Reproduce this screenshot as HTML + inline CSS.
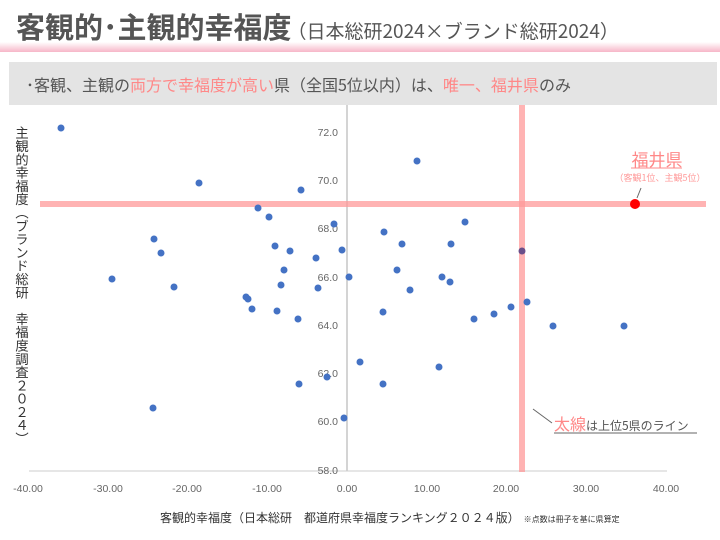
<!DOCTYPE html>
<html><head><meta charset="utf-8"><style>
body{margin:0;width:720px;height:540px;background:#fff;overflow:hidden;font-family:"Liberation Sans","Noto Sans CJK JP",sans-serif;}
</style></head><body>
<svg width="720" height="540" viewBox="0 0 720 540" xmlns="http://www.w3.org/2000/svg" style="position:absolute;left:0;top:0">
<defs><linearGradient id="g" x1="0" y1="0" x2="0" y2="1"><stop offset="0" stop-color="#fff"/><stop offset="1" stop-color="#f7b6c8"/></linearGradient></defs>
<rect x="0" y="42" width="720" height="10" fill="url(#g)"/>
<text x="16" y="38" font-size="29" font-weight="bold" fill="#555" font-family="Noto Sans CJK JP,sans-serif">客観的･主観的幸福度<tspan font-size="19" font-weight="normal" dx="-4">（日本総研2024×ブランド総研2024）</tspan></text>
<rect x="9" y="62" width="708" height="43" fill="#e4e4e4"/>
<text x="26" y="91" font-size="16" fill="#555" font-family="Noto Sans CJK JP,sans-serif">･客観、主観の<tspan fill="#f88">両方で幸福度が高い</tspan>県（全国5位以内）は、<tspan fill="#f88">唯一、福井県</tspan>のみ</text>
<line x1="347" y1="105" x2="347" y2="471" stroke="#aaa" stroke-width="1"/>
<line x1="29" y1="471" x2="667" y2="471" stroke="#ccc" stroke-width="1"/>
<g font-size="10.5" fill="#666" text-anchor="end">
<text x="338" y="136">72.0</text><text x="338" y="184">70.0</text><text x="338" y="232">68.0</text><text x="338" y="281">66.0</text><text x="338" y="329">64.0</text><text x="338" y="377">62.0</text><text x="338" y="425">60.0</text><text x="338" y="474">58.0</text>
</g>
<g font-size="10.5" fill="#666" text-anchor="middle">
<text x="28" y="492">-40.00</text><text x="108" y="492">-30.00</text><text x="187" y="492">-20.00</text><text x="267" y="492">-10.00</text><text x="347" y="492">0.00</text><text x="427" y="492">10.00</text><text x="506" y="492">20.00</text><text x="586" y="492">30.00</text><text x="666" y="492">40.00</text>
</g>
<text x="160" y="522" font-size="12" fill="#333" font-family="Noto Sans CJK JP,sans-serif">客観的幸福度（日本総研　都道府県幸福度ランキング２０２４版）<tspan font-size="8" dx="4">※点数は冊子を基に県算定</tspan></text>
<text font-size="13.3" fill="#333" x="22" y="126" font-family="Noto Sans CJK JP,sans-serif" style="writing-mode:vertical-rl">主観的幸福度（ブランド総研　幸福度調査２０２４）</text>
<rect x="40" y="201" width="666" height="6" fill="#f99" opacity="0.75"/>
<rect x="519" y="105" width="6" height="367" fill="#f99" opacity="0.75"/>
<g fill="#4472c4">
<circle cx="61" cy="128" r="3.5"/><circle cx="199" cy="183" r="3.5"/><circle cx="301" cy="190" r="3.5"/><circle cx="258" cy="208" r="3.5"/><circle cx="269" cy="217" r="3.5"/><circle cx="154" cy="239" r="3.5"/><circle cx="161" cy="253" r="3.5"/><circle cx="112" cy="279" r="3.5"/><circle cx="174" cy="287" r="3.5"/><circle cx="318" cy="288" r="3.5"/><circle cx="275" cy="246" r="3.5"/><circle cx="290" cy="251" r="3.5"/><circle cx="284" cy="270" r="3.5"/><circle cx="281" cy="285" r="3.5"/><circle cx="246" cy="297" r="3.5"/><circle cx="248" cy="299" r="3.5"/><circle cx="252" cy="309" r="3.5"/><circle cx="277" cy="311" r="3.5"/><circle cx="298" cy="319" r="3.5"/><circle cx="334" cy="224" r="3.5"/><circle cx="342" cy="250" r="3.5"/><circle cx="316" cy="258" r="3.5"/><circle cx="349" cy="277" r="3.5"/><circle cx="299" cy="384" r="3.5"/><circle cx="327" cy="377" r="3.5"/><circle cx="360" cy="362" r="3.5"/><circle cx="344" cy="418" r="3.5"/><circle cx="153" cy="408" r="3.5"/><circle cx="383" cy="384" r="3.5"/><circle cx="384" cy="232" r="3.5"/><circle cx="402" cy="244" r="3.5"/><circle cx="383" cy="312" r="3.5"/><circle cx="397" cy="270" r="3.5"/><circle cx="410" cy="290" r="3.5"/><circle cx="417" cy="161" r="3.5"/><circle cx="465" cy="222" r="3.5"/><circle cx="451" cy="244" r="3.5"/><circle cx="442" cy="277" r="3.5"/><circle cx="450" cy="282" r="3.5"/><circle cx="439" cy="367" r="3.5"/><circle cx="474" cy="319" r="3.5"/><circle cx="494" cy="314" r="3.5"/><circle cx="511" cy="307" r="3.5"/><circle cx="527" cy="302" r="3.5"/><circle cx="553" cy="326" r="3.5"/><circle cx="624" cy="326" r="3.5"/>
<circle cx="522" cy="251" r="3.5" fill="#6a4f8a"/>
</g>
<circle cx="635" cy="204" r="5" fill="#f00"/>
<line x1="637" y1="198" x2="641" y2="188" stroke="#666" stroke-width="1"/>
<text x="657" y="166" font-size="17" fill="#f88" text-anchor="middle" font-family="Noto Sans CJK JP,sans-serif">福井県</text>
<line x1="631" y1="168" x2="682" y2="168" stroke="#f88" stroke-width="1"/>
<text x="660" y="181" font-size="9" fill="#f99" text-anchor="middle" font-family="Noto Sans CJK JP,sans-serif">（客観1位、主観5位）</text>
<line x1="533" y1="409" x2="552" y2="423" stroke="#666" stroke-width="1"/>
<text x="554" y="430" font-size="16" fill="#f88" font-family="Noto Sans CJK JP,sans-serif">太線<tspan font-size="12" fill="#555">は上位5県のライン</tspan></text>
<line x1="554" y1="433" x2="697" y2="433" stroke="#666" stroke-width="1"/>
</svg>
</body></html>
